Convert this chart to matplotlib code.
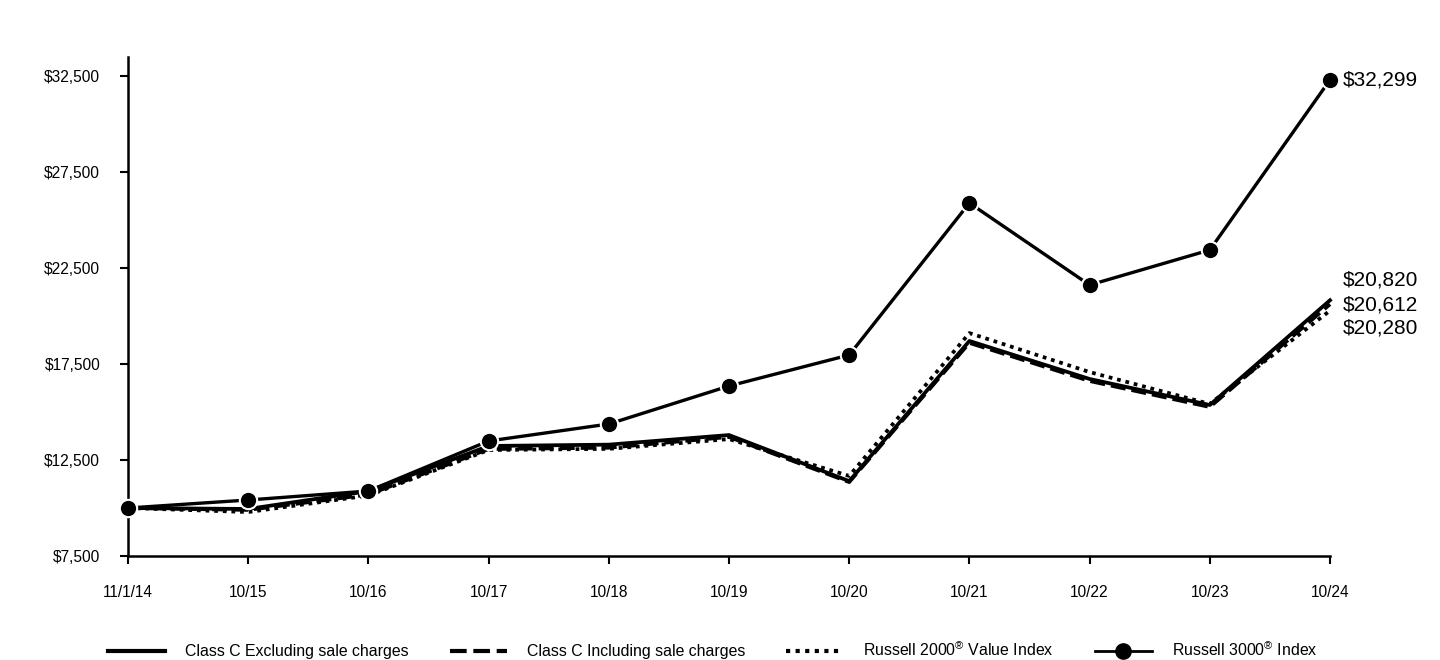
import matplotlib.pyplot as plt
from matplotlib.lines import Line2D

plt.rcParams['font.family'] = ['Liberation Sans', 'DejaVu Sans']
plt.rcParams['mathtext.fontset'] = 'custom'
plt.rcParams['mathtext.rm'] = 'Liberation Sans'

# Data
dates = ['11/1/14', '10/15', '10/16', '10/17', '10/18', '10/19',
         '10/20', '10/21', '10/22', '10/23', '10/24']
class_c_excl = [10000, 9950, 10880, 13230, 13300, 13800,
                11400, 18700, 16720, 15365, 20820]
class_c_incl = [10000, 9900, 10700, 13070, 13140, 13700,
                11350, 18600, 16615, 15260, 20612]
r2000_value = [10000, 9790, 10650, 13020, 13080, 13590,
               11670, 19110, 17080, 15420, 20280]
r3000 = [10000, 10417, 10885, 13490, 14375, 16354,
         17969, 25885, 21615, 23438, 32299]
y_ticks = [7500, 12500, 17500, 22500, 27500, 32500]

x = list(range(len(dates)))

fig = plt.figure(figsize=(14.4, 6.6), dpi=100)
ax = fig.add_axes([128 / 1440, 1 - 556 / 660, (1330 - 128) / 1440, (556 - 57) / 660])

ax.plot(x, r2000_value, color='black', lw=2.7, linestyle=(0, (1, 1.3)),
        label='Russell 2000$^{®}$ Value Index', clip_on=False)
ax.plot(x, class_c_incl, color='black', lw=2.7, linestyle=(0, (4, 1.6)),
        label='Class C Including sale charges', clip_on=False)
ax.plot(x, class_c_excl, color='black', lw=2.7, linestyle='-',
        label='Class C Excluding sale charges', clip_on=False)
ax.plot(x, r3000, color='black', lw=2.4, marker='o', markersize=12.5,
        markeredgecolor='white', markeredgewidth=1.5,
        label='Russell 3000$^{®}$ Index', clip_on=False, zorder=5)

# end value labels
ax.annotate(f'${r3000[-1]:,}', (x[-1], r3000[-1]), xytext=(9.5, 0),
            textcoords='offset points', ha='left', va='center', fontsize=15)
end_vals = [class_c_excl[-1], class_c_incl[-1], r2000_value[-1]]
offsets = [14.4, -0.5, -12.5]
for v, off in zip(end_vals, offsets):
    ax.annotate(f'${v:,}', (x[-1], v), xytext=(9.5, off),
                textcoords='offset points', ha='left', va='center', fontsize=15)

ax.set_xlim(0, 10)
ax.set_ylim(7500, 33490)
ax.set_xticks(x)
ax.set_xticklabels(dates)
ax.set_yticks(y_ticks)
ax.set_yticklabels([f'${v:,}' for v in y_ticks])
ax.tick_params(axis='x', direction='out', length=6, width=1.5, pad=15, labelsize=11.2)
ax.tick_params(axis='y', direction='out', length=6, width=1.5, pad=14, labelsize=11.2)
for side in ['top', 'right']:
    ax.spines[side].set_visible(False)
for side in ['left', 'bottom']:
    ax.spines[side].set_linewidth(1.8)

handles = [
    Line2D([], [], color='black', lw=3, linestyle='-'),
    Line2D([], [], color='black', lw=3, linestyle=(0, (4, 1.6))),
    Line2D([], [], color='black', lw=3, linestyle=(0, (1, 1.3))),
    Line2D([], [], color='black', lw=2, marker='o', markersize=11),
]
labels = ['Class C Excluding sale charges', 'Class C Including sale charges',
          'Russell 2000$^{®}$ Value Index', 'Russell 3000$^{®}$ Index']
fig.legend(handles, labels, loc='center', bbox_to_anchor=(0.495, 1 - 650 / 660),
           ncol=4, frameon=False, fontsize=11.4, handlelength=3.6,
           handletextpad=1.25, columnspacing=2.6)

fig.savefig('out.png', dpi=100)
